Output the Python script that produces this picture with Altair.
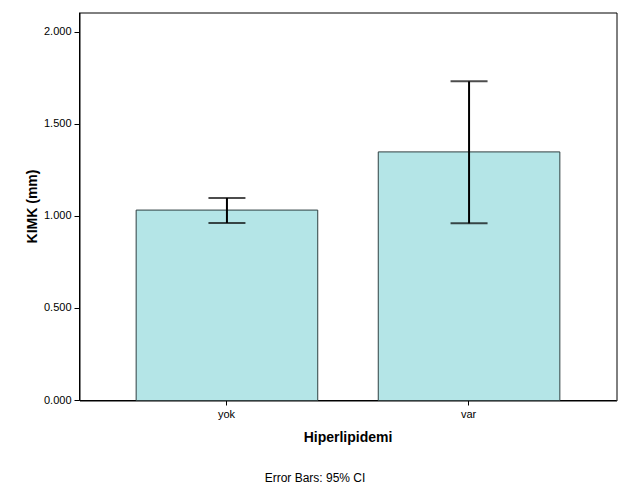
import altair as alt
import pandas as pd

categories = ["yok", "var"]
means = [1.034, 1.350]
ci_low = [0.964, 0.962]
ci_high = [1.100, 1.733]

df = pd.DataFrame({"grp": categories, "mean": means, "lo": ci_low, "hi": ci_high})

FONT = "Liberation Sans"
xenc = alt.X("grp:N", sort=categories,
             scale=alt.Scale(paddingInner=0.25, paddingOuter=0.234),
             axis=alt.Axis(title="Hiperlipidemi", labelAngle=0, labelFontSize=11,
                           labelColor="#000", labelFont=FONT, titleFont=FONT,
                           titleFontSize=14, titleFontWeight="bold", titleColor="#000",
                           tickColor="#000", tickSize=5, domainColor="#000",
                           labelPadding=3, titlePadding=11, translate=0))
yscale = alt.Scale(domain=[0, 2.107], nice=False, zero=True)
yaxis = alt.Axis(title="KIMK (mm)", values=[0, 0.5, 1, 1.5, 2], format=".3f",
                 labelFontSize=11, labelColor="#000", labelFont=FONT, titleFont=FONT,
                 titleFontSize=14, titleFontWeight="bold", titleColor="#000",
                 tickColor="#000", tickSize=5, domainColor="#000", grid=False,
                 labelPadding=3, titlePadding=4, translate=0)

base = alt.Chart(df)
bars = base.mark_bar(color="#b4e5e7", stroke="#2f3f40", strokeWidth=1).encode(
    x=xenc, y=alt.Y("mean:Q", scale=yscale, axis=yaxis))
err = base.mark_rule(color="#000", strokeWidth=2).encode(
    x=alt.X("grp:N", sort=categories), y=alt.Y("lo:Q"), y2="hi:Q")
cap_lo = base.mark_tick(color="#000", thickness=2, size=37).encode(
    x=alt.X("grp:N", sort=categories), y="lo:Q")
cap_hi = base.mark_tick(color="#000", thickness=2, size=37).encode(
    x=alt.X("grp:N", sort=categories), y="hi:Q")

chart = alt.layer(bars, err, cap_lo, cap_hi).properties(
    width=537, height=388,
    title=alt.TitleParams("Error Bars: 95% CI", orient="bottom", anchor="middle",
                          font=FONT, fontSize=12, fontWeight="normal", color="#000",
                          dx=-33, offset=28),
    autosize=alt.AutoSizeParams(type="none"),
    padding={"left": 79.5, "top": 12.5, "right": 12.5, "bottom": 103.5},
).configure(background="white", view=alt.ViewConfig(stroke="#000", strokeWidth=1))

chart.save("out.html", embed_options={"renderer": "svg", "actions": False})
